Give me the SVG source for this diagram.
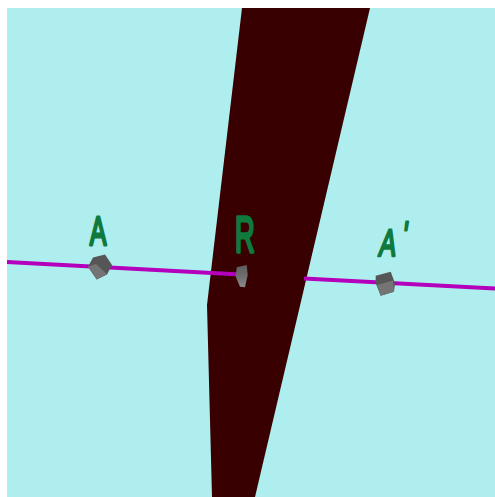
<svg xmlns="http://www.w3.org/2000/svg" width="495" height="497" viewBox="0 0 495 497">
<defs>
<style>
.lbl{font-family:"Liberation Sans",Arial,sans-serif;font-size:38px;fill:#0f7a3c;stroke:#0f7a3c;stroke-width:2.6px;stroke-linejoin:round}
.line{stroke:#b400bc;stroke-width:4;fill:none}
.dark{fill:#565656}
.light{fill:#747474}
</style>
<linearGradient id="rg" x1="0" y1="0" x2="0" y2="1"><stop offset="0" stop-color="#5e5e5e"/><stop offset="0.5" stop-color="#6e6e6e"/><stop offset="1" stop-color="#8a8a8a"/></linearGradient>
</defs>
<rect x="7" y="8" width="488" height="489" fill="#afeeee"/>
<polygon id="wedge" points="242,8 370,8 255,497 212,497 207,305" fill="#380000"/>
<g id="connectors">
<path class="line" d="M7,262 L240,274.500"/>
<path class="line" d="M304,278.500 L495,288.500"/>
</g>
<g id="node-A">
<polygon class="dark" points="88,266.700 93,257.500 105,254.500 112,265 107,274.500 96.700,279.500"/>
<polygon class="light" points="88,266.700 96,264 106.700,274 96.700,279.500"/>
<text class="lbl" transform="translate(98 245) scale(0.66 1.08)" text-anchor="middle">A</text>
</g>
<g id="node-R">
<polygon fill="url(#rg)" points="236.700,267.300 246.700,265 247.700,275 245,287.300 240,286.700 235.700,276.700"/>
<text class="lbl" transform="translate(235 252) scale(0.72 1.32)">R</text>
</g>
<g id="node-A-prime">
<polygon class="dark" points="375.700,275.700 390.700,271.700 395,283.300 394,291.700 380.700,295.700 375.700,283.300"/>
<polygon class="light" points="377,285 393,280.500 394,291.700 380.700,295.700"/>
<text class="lbl" transform="translate(378 256) skewX(-8) scale(0.66 1)">A<tspan dx="8" dy="-8">'</tspan></text>
</g>
</svg>
